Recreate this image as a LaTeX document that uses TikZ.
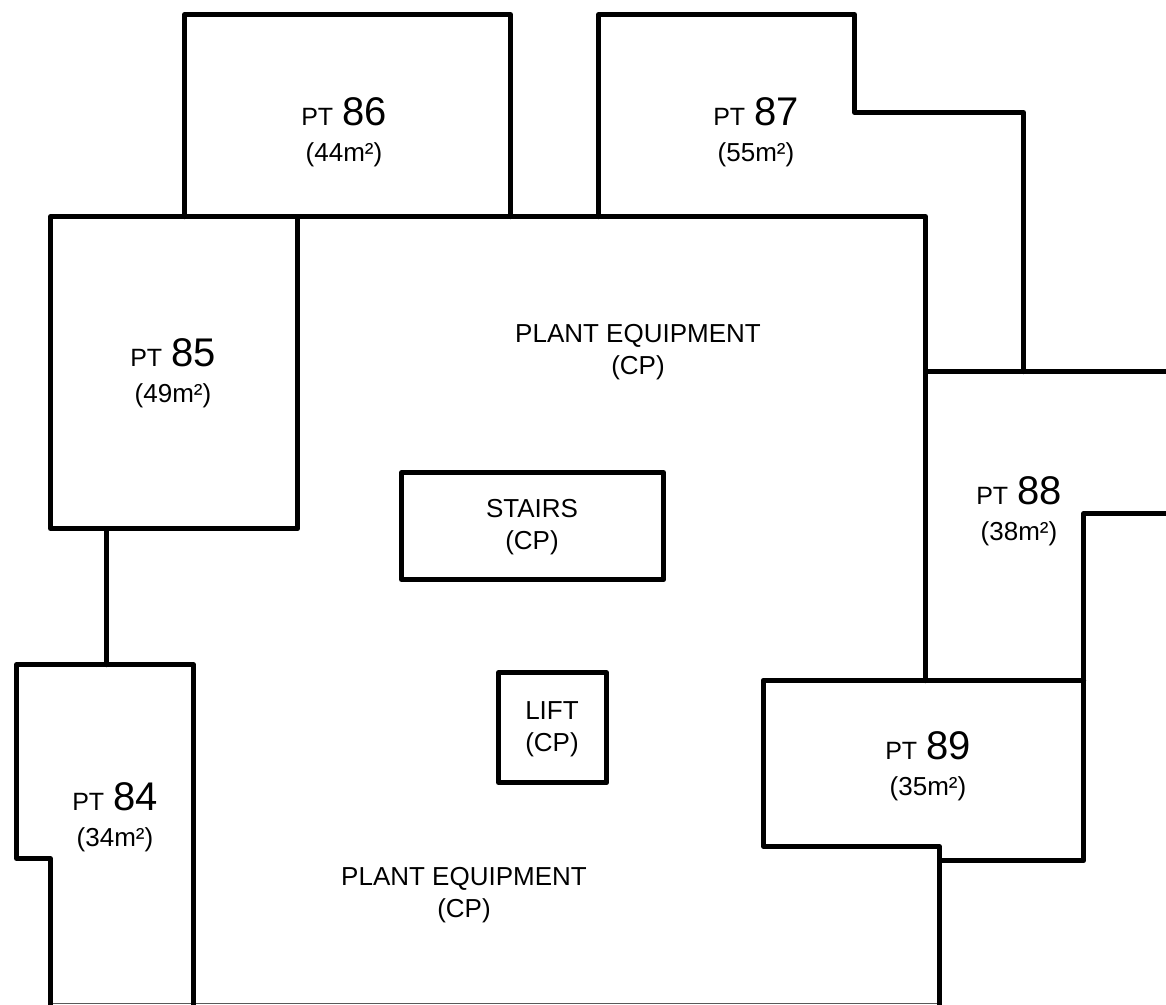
\documentclass[tikz,border=0pt]{standalone}
\usepackage{fontspec}
\setmainfont{Liberation Sans}
\newcommand{\lbl}[3]{{\fontsize{25}{25}\selectfont #1\hspace{9pt}}{\fontsize{40}{40}\selectfont #2}\\{\fontsize{26}{26}\selectfont (#3m²)}}
\tikzset{x=1pt,y=-1pt,
 wall/.style={line width=5pt,line cap=round,line join=round,black},
 edge/.style={line width=1pt,black!65},
 unit/.style={align=center,inner sep=0pt,font=\fontsize{26}{36}\selectfont},
 plain/.style={align=center,inner sep=0pt,font=\fontsize{26}{32}\selectfont}}
\begin{document}
\begin{tikzpicture}
\useasboundingbox[fill=white] (0,0) rectangle (1166,1004);
\begin{scope}
\clip (0,0) rectangle (1166,1004);
\draw[edge] (51,1003.5) -- (940,1003.5);
\begin{scope}[xshift=-0.4pt,yshift=0.4pt]
\draw[wall] (51,1010) -- (51,859) -- (17,859) -- (17,665) -- (194,665) -- (194,1010);
\draw[wall] (107,665) -- (107,529);
\draw[wall] (51,529) rectangle (298,217);
\draw[wall] (185,217) -- (185,15) -- (511,15) -- (511,217);
\draw[wall] (298,217) -- (926,217) -- (926,681);
\draw[wall] (599,217) -- (599,15) -- (855,15) -- (855,113) -- (1024,113) -- (1024,372);
\draw[wall] (926,372) -- (1170,372);
\draw[wall] (1170,514) -- (1084,514) -- (1084,861) -- (940,861);
\draw[wall] (764,681) -- (1084,681);
\draw[wall] (764,681) -- (764,847) -- (940,847) -- (940,1010);
\draw[wall] (402,473) rectangle (664,580);
\draw[wall] (499,673) rectangle (607,783);
\end{scope}
\end{scope}
\node[unit] (p84) at (115,817) {\lbl{PT}{84}{34}};
\node[unit] (p85) at (173,373) {\lbl{PT}{85}{49}};
\node[unit] (p86) at (344,132.5) {\lbl{PT}{86}{44}};
\node[unit] (p87) at (756,132.5) {\lbl{PT}{87}{55}};
\node[unit] (p88) at (1019,511.5) {\lbl{PT}{88}{38}};
\node[unit] (p89) at (928,766) {\lbl{PT}{89}{35}};
\node[plain] (pe1) at (638,352) {PLANT EQUIPMENT\\(CP)};
\node[plain] (pe2) at (464,895) {PLANT EQUIPMENT\\(CP)};
\node[plain] (st) at (532,527) {STAIRS\\(CP)};
\node[plain] (li) at (552,729) {LIFT\\(CP)};
\end{tikzpicture}
\end{document}
